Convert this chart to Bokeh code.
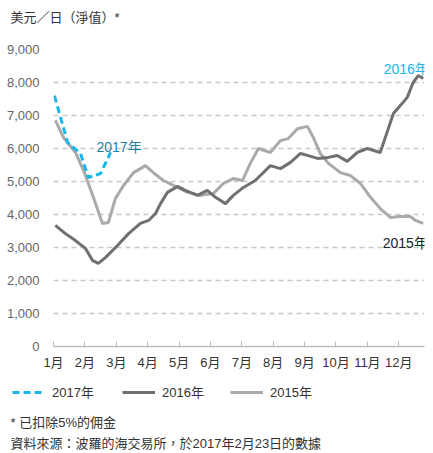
from bokeh.plotting import figure
from bokeh.layouts import column
from bokeh.models import Range1d, FixedTicker, Label, Legend, LegendItem, NumeralTickFormatter
from bokeh.embed import file_html
from bokeh.resources import INLINE

FONT = "'Liberation Sans', 'Noto Sans CJK TC', sans-serif"

months = ["1月", "2月", "3月", "4月", "5月", "6月", "7月", "8月", "9月", "10月", "11月", "12月"]
y_ticks = [0, 1000, 2000, 3000, 4000, 5000, 6000, 7000, 8000, 9000]

# x in months since 1 Jan
x2017 = [0.03, 0.45, 0.86, 1.11, 1.30, 1.50, 1.82]
y2017 = [7600, 6180, 5850, 5120, 5180, 5240, 5880]

x2016 = [0.06, 0.38, 0.70, 1.02, 1.24, 1.43, 1.66, 2.04, 2.39, 2.77, 3.03, 3.25, 3.41, 3.63,
         3.95, 4.20, 4.59, 4.90, 5.16, 5.48, 5.73, 6.05, 6.43, 6.91, 7.23, 7.55, 7.87, 8.09,
         8.41, 8.76, 9.04, 9.36, 9.68, 10.00, 10.41, 10.57, 10.83, 11.05, 11.27, 11.46, 11.62, 11.78]
y2016 = [3670, 3420, 3210, 2970, 2610, 2520, 2700, 3060, 3420, 3730, 3820, 4030, 4330, 4670,
         4850, 4730, 4580, 4730, 4520, 4330, 4580, 4820, 5030, 5480, 5390, 5580, 5850, 5790,
         5700, 5730, 5790, 5610, 5880, 6000, 5880, 6330, 7060, 7300, 7550, 8000, 8210, 8120]

x2015 = [0.06, 0.32, 0.70, 0.96, 1.27, 1.56, 1.75, 1.97, 2.23, 2.55, 2.93, 3.18, 3.50, 3.82,
         4.27, 4.68, 5.10, 5.41, 5.73, 6.02, 6.27, 6.53, 6.91, 7.23, 7.48, 7.77, 8.09, 8.28,
         8.50, 8.76, 9.14, 9.46, 9.78, 10.10, 10.41, 10.73, 11.05, 11.37, 11.53, 11.78]
y2015 = [6850, 6330, 5880, 5330, 4520, 3730, 3760, 4480, 4880, 5270, 5480, 5270, 5030, 4880,
         4670, 4580, 4640, 4940, 5090, 5030, 5550, 6000, 5880, 6240, 6300, 6600, 6670, 6330,
         5850, 5550, 5270, 5180, 4940, 4520, 4180, 3910, 3940, 3940, 3820, 3730]

series = [("2017年", x2017, y2017, "#19b6e8", "7 4"),
          ("2016年", x2016, y2016, "#707070", "solid"),
          ("2015年", x2015, y2015, "#aaaaaa", "solid")]


def no_align(f):
    try:
        f.frame_align = False
    except Exception:
        pass


def text_panel(height):
    f = figure(width=433, height=height, output_backend="svg", toolbar_location=None,
               x_range=Range1d(0, 433), y_range=Range1d(height, 0),
               min_border=0, x_axis_type=None, y_axis_type=None)
    f.outline_line_color = None
    f.grid.visible = False
    no_align(f)
    return f


# top panel: unit title (ranges in pixels, y from top)
t = text_panel(40)
t.add_layout(Label(x=10, y=17, text="美元／日（淨值）*", text_color="#333333", text_font=FONT,
                   text_font_size="13px", text_baseline="middle"))

p = figure(width=433, height=335, output_backend="svg", toolbar_location=None,
           x_range=Range1d(0, 11.82), y_range=Range1d(0, 9000),
           min_border_left=53, min_border_right=9, min_border_top=9, min_border_bottom=29)
p.outline_line_color = None
no_align(p)

p.xaxis.ticker = FixedTicker(ticks=list(range(12)))
p.xaxis.major_label_overrides = {i: m for i, m in enumerate(months)}
p.xaxis.axis_line_color = "#bbbbbb"
p.xaxis.axis_line_width = 1.5
p.xaxis.major_tick_line_color = "#bbbbbb"
p.xaxis.major_tick_in = 5
p.xaxis.major_tick_out = 0
p.xaxis.minor_tick_line_color = None
p.xaxis.major_label_text_font = FONT
p.xaxis.major_label_text_font_size = "13px"
p.xaxis.major_label_text_color = "#333333"
p.xaxis.major_label_standoff = 8

p.yaxis.ticker = FixedTicker(ticks=y_ticks)
p.yaxis.formatter = NumeralTickFormatter(format="0,0")
p.yaxis.axis_line_color = None
p.yaxis.major_tick_line_color = None
p.yaxis.minor_tick_line_color = None
p.yaxis.major_label_text_font = FONT
p.yaxis.major_label_text_font_size = "13px"
p.yaxis.major_label_text_color = "#666666"
p.yaxis.major_label_standoff = 8

p.xgrid.grid_line_color = None
p.ygrid.grid_line_color = "#c8c8c8"
p.ygrid.grid_line_dash = "5 4"
p.ygrid.grid_line_width = 1.5

for name, xs, ys, color, dash in reversed(series):
    p.line(xs, ys, line_color=color, line_width=3, line_dash=dash)

p.add_layout(Label(x=1.37, y=6060, text="2017年", text_color="#1f7ea6", text_font=FONT,
                   text_font_size="14px", text_baseline="middle"))
p.add_layout(Label(x=10.52, y=8420, text="2016年", text_color="#19b6e8", text_font=FONT,
                   text_font_size="14px", text_baseline="middle"))
p.add_layout(Label(x=10.49, y=3150, text="2015年", text_color="#222222", text_font=FONT,
                   text_font_size="14px", text_baseline="middle"))

# bottom panel: legend and footnotes (ranges in pixels, y from top)
q = text_panel(78)
legend_x = [12, 122, 230]
for (name, xs, ys, color, dash), lx in zip(series, legend_x):
    r = q.line(xs, ys, line_color=color, line_width=3, line_dash=dash)  # out of this panel's view
    q.add_layout(Legend(items=[LegendItem(label=name, renderers=[r])],
                        orientation="horizontal", location=(lx, 52),
                        glyph_width=33, glyph_height=18, label_standoff=7, spacing=0,
                        padding=0, margin=0, border_line_color=None, background_fill_alpha=0,
                        label_text_font=FONT, label_text_font_size="13px",
                        label_text_color="#333333"), "center")

q.add_layout(Label(x=10, y=47, text="* 已扣除5%的佣金", text_color="#333333", text_font=FONT,
                   text_font_size="13px", text_baseline="middle"))
q.add_layout(Label(x=10, y=68, text="資料來源：波羅的海交易所，於2017年2月23日的數據",
                   text_color="#333333", text_font=FONT, text_font_size="13px",
                   text_baseline="middle"))

layout = column(t, p, q, spacing=0)
open("out.html", "w").write(file_html(layout, INLINE))
